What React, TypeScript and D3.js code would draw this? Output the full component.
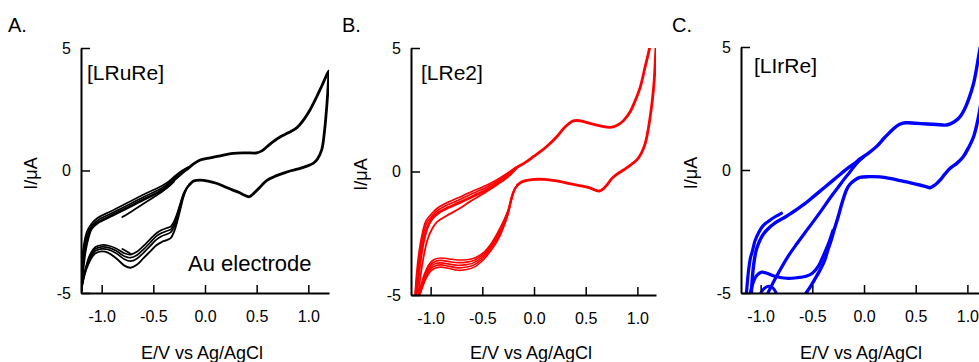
import React, { useEffect, useRef } from 'react';
import * as d3 from 'd3';

type Pt = [number, number];

const FONT = '"Liberation Sans", Arial, Helvetica, sans-serif';

// shared axes
const xTickValues = [-1.0, -0.5, 0.0, 0.5, 1.0];
const xTickLabels = ['-1.0', '-0.5', '0.0', '0.5', '1.0'];
const yTickValues = [-5, 0, 5];
const yTickLabels = ['-5', '0', '5'];
const xTitle = 'E/V vs Ag/AgCl';
const yTitle = 'I/μA';

// ---- A. [LRuRe] on Au electrode (E in V, I in uA) ----
const ruUpper: Pt[] = [
  [-1.2, -5.0], [-1.185, -4.2], [-1.16, -3.3], [-1.13, -2.72], [-1.1, -2.38], [-1.04, -2.14],
  [-0.9, -1.84], [-0.75, -1.52], [-0.58, -1.15], [-0.42, -0.82], [-0.35, -0.62], [-0.29, -0.36],
  [-0.22, -0.1], [-0.16, 0.1], [-0.1, 0.3], [-0.04, 0.44], [0.05, 0.52], [0.15, 0.6], [0.27, 0.7],
  [0.4, 0.72], [0.5, 0.72], [0.55, 0.8], [0.6, 0.97], [0.66, 1.18], [0.73, 1.38], [0.81, 1.55],
  [0.89, 1.75], [0.96, 2.1], [1.02, 2.5], [1.08, 3.0], [1.13, 3.45], [1.19, 4.0], [1.2, 4.05]
];
const ruUpper2: Pt[] = [
  [-1.2, -5.0], [-1.19, -4.1], [-1.17, -3.2], [-1.14, -2.62], [-1.1, -2.28], [-1.04, -2.04],
  [-0.9, -1.74], [-0.75, -1.42], [-0.58, -1.05], [-0.42, -0.72], [-0.35, -0.52], [-0.29, -0.27],
  [-0.22, -0.03], [-0.16, 0.13]
];
const ruUpper3: Pt[] = [
  [-1.2, -5.0], [-1.195, -4.0], [-1.175, -3.1], [-1.145, -2.52], [-1.1, -2.18], [-1.04, -1.94],
  [-0.9, -1.64], [-0.75, -1.32], [-0.58, -0.95], [-0.42, -0.63], [-0.35, -0.45], [-0.29, -0.22],
  [-0.22, 0.0], [-0.16, 0.14]
];
const ruStart: Pt[] = [
  [-0.8, -1.9], [-0.7, -1.64], [-0.6, -1.37], [-0.5, -1.1], [-0.42, -0.88], [-0.36, -0.68], [-0.3, -0.45]
];
const ruLower: Pt[] = [
  [1.2, 4.05], [1.185, 3.0], [1.17, 2.2], [1.155, 1.55], [1.13, 0.85], [1.09, 0.48], [1.05, 0.3],
  [0.98, 0.17], [0.92, 0.09], [0.84, 0.0], [0.76, -0.11], [0.68, -0.23], [0.6, -0.4], [0.55, -0.6],
  [0.5, -0.82], [0.46, -0.98], [0.43, -1.07], [0.39, -1.02], [0.33, -0.9], [0.27, -0.8], [0.18, -0.64],
  [0.11, -0.52], [0.03, -0.43], [-0.05, -0.39], [-0.11, -0.43], [-0.15, -0.58]
];
const ruCycle1: Pt[] = [
  [-0.15, -0.58], [-0.18, -0.72], [-0.21, -0.96], [-0.24, -1.36], [-0.27, -1.76], [-0.3, -2.08],
  [-0.33, -2.28], [-0.37, -2.35], [-0.42, -2.43], [-0.47, -2.56], [-0.53, -2.8], [-0.6, -3.1],
  [-0.66, -3.32], [-0.72, -3.43], [-0.78, -3.38], [-0.86, -3.18], [-0.94, -3.06], [-1.0, -3.04],
  [-1.06, -3.12], [-1.11, -3.4], [-1.15, -3.9], [-1.18, -4.4], [-1.2, -5.0]
];
const ruCycle2: Pt[] = [
  [-0.15, -0.58], [-0.18, -0.73], [-0.21, -1.0], [-0.24, -1.42], [-0.27, -1.85], [-0.3, -2.18],
  [-0.33, -2.4], [-0.37, -2.47], [-0.42, -2.55], [-0.47, -2.68], [-0.53, -2.94], [-0.6, -3.24],
  [-0.66, -3.46], [-0.72, -3.56], [-0.78, -3.5], [-0.86, -3.28], [-0.94, -3.14], [-1.0, -3.12],
  [-1.06, -3.2], [-1.11, -3.48], [-1.15, -3.95], [-1.18, -4.45], [-1.2, -5.0]
];
const ruCycle3: Pt[] = [
  [-0.15, -0.58], [-0.18, -0.75], [-0.21, -1.05], [-0.24, -1.5], [-0.27, -1.95], [-0.3, -2.3],
  [-0.33, -2.52], [-0.37, -2.6], [-0.42, -2.68], [-0.47, -2.82], [-0.53, -3.08], [-0.6, -3.38],
  [-0.66, -3.6], [-0.72, -3.7], [-0.78, -3.62], [-0.86, -3.38], [-0.94, -3.22], [-1.0, -3.2],
  [-1.06, -3.28], [-1.11, -3.55], [-1.15, -4.0], [-1.18, -4.5], [-1.2, -5.0]
];
const ruCycle4: Pt[] = [
  [-0.15, -0.58], [-0.18, -0.77], [-0.21, -1.1], [-0.24, -1.6], [-0.27, -2.1], [-0.3, -2.5],
  [-0.33, -2.75], [-0.37, -2.84], [-0.42, -2.92], [-0.47, -3.05], [-0.53, -3.3], [-0.6, -3.6],
  [-0.66, -3.85], [-0.72, -3.97], [-0.78, -3.88], [-0.86, -3.58], [-0.94, -3.35], [-1.0, -3.3],
  [-1.06, -3.38], [-1.11, -3.65], [-1.15, -4.05], [-1.18, -4.5], [-1.2, -5.0]
];
const ruTail: Pt[] = [[-0.8, -3.2], [-0.76, -3.3], [-0.72, -3.4]];

// ---- B. [LRe2] ----
const reUpper: Pt[] = [
  [-1.14, -5.0], [-1.12, -4.3], [-1.1, -3.6], [-1.07, -2.85], [-1.03, -2.25], [-0.98, -1.88],
  [-0.92, -1.66], [-0.83, -1.46], [-0.72, -1.26], [-0.64, -1.1], [-0.55, -0.92], [-0.45, -0.72],
  [-0.35, -0.45], [-0.25, -0.13], [-0.17, 0.15], [-0.09, 0.35], [0.0, 0.62], [0.06, 0.8], [0.12, 1.0],
  [0.22, 1.41], [0.3, 1.8], [0.38, 2.05], [0.45, 2.05], [0.54, 1.95], [0.64, 1.85], [0.74, 1.79],
  [0.81, 1.88], [0.87, 2.08], [0.93, 2.42], [0.98, 2.88], [1.03, 3.45], [1.075, 4.24], [1.12, 5.05],
  [1.15, 6.0]
];
const reUpper2: Pt[] = [
  [-1.15, -5.0], [-1.13, -4.2], [-1.11, -3.45], [-1.08, -2.7], [-1.04, -2.1], [-0.98, -1.76],
  [-0.92, -1.54], [-0.83, -1.34], [-0.72, -1.14], [-0.64, -0.98], [-0.55, -0.81], [-0.45, -0.62],
  [-0.35, -0.37], [-0.25, -0.08], [-0.17, 0.17]
];
const reUpper3: Pt[] = [
  [-1.15, -5.0], [-1.135, -4.1], [-1.115, -3.35], [-1.085, -2.6], [-1.045, -2.0], [-0.98, -1.66],
  [-0.92, -1.44], [-0.83, -1.24], [-0.72, -1.04], [-0.64, -0.88], [-0.55, -0.72], [-0.45, -0.54],
  [-0.35, -0.31], [-0.25, -0.05], [-0.17, 0.18]
];
const reFirst: Pt[] = [
  [-1.12, -5.0], [-1.1, -4.3], [-1.07, -3.5], [-1.03, -2.75], [-0.98, -2.28], [-0.94, -2.05],
  [-0.85, -1.8], [-0.72, -1.5], [-0.62, -1.22], [-0.5, -0.92], [-0.4, -0.66], [-0.3, -0.38],
  [-0.23, -0.15], [-0.17, 0.12]
];
const reLower: Pt[] = [
  [1.2, 6.4], [1.18, 5.05], [1.163, 3.7], [1.145, 2.9], [1.124, 2.22], [1.1, 1.6], [1.076, 1.14],
  [1.04, 0.75], [0.995, 0.47], [0.93, 0.25], [0.865, 0.06], [0.8, -0.12], [0.75, -0.3], [0.71, -0.52],
  [0.67, -0.7], [0.63, -0.79], [0.59, -0.75], [0.54, -0.66], [0.47, -0.59], [0.39, -0.53], [0.3, -0.45],
  [0.2, -0.37], [0.1, -0.32], [0.0, -0.32], [-0.07, -0.36], [-0.12, -0.43], [-0.16, -0.55]
];
const reCycle1: Pt[] = [
  [-0.16, -0.55], [-0.19, -0.71], [-0.22, -1.05], [-0.25, -1.55], [-0.3, -2.05], [-0.35, -2.46],
  [-0.42, -2.95], [-0.48, -3.25], [-0.575, -3.5], [-0.65, -3.57], [-0.736, -3.58], [-0.82, -3.54],
  [-0.9, -3.5], [-0.96, -3.55], [-1.0, -3.68], [-1.04, -3.95], [-1.08, -4.4], [-1.12, -5.1]
];
const reCycle2: Pt[] = [
  [-0.16, -0.55], [-0.19, -0.73], [-0.22, -1.09], [-0.25, -1.59], [-0.3, -2.11], [-0.35, -2.54],
  [-0.42, -3.02], [-0.48, -3.31], [-0.575, -3.59], [-0.65, -3.67], [-0.736, -3.69], [-0.82, -3.65],
  [-0.9, -3.6], [-0.96, -3.65], [-1.0, -3.77], [-1.04, -4.04], [-1.08, -4.48], [-1.12, -5.1]
];
const reCycle3: Pt[] = [
  [-0.16, -0.55], [-0.19, -0.75], [-0.22, -1.13], [-0.25, -1.63], [-0.3, -2.18], [-0.35, -2.62],
  [-0.42, -3.08], [-0.48, -3.38], [-0.575, -3.68], [-0.65, -3.77], [-0.736, -3.8], [-0.82, -3.75],
  [-0.9, -3.7], [-0.96, -3.74], [-1.0, -3.86], [-1.04, -4.13], [-1.08, -4.56], [-1.115, -5.1]
];
const reCycle4: Pt[] = [
  [-0.16, -0.55], [-0.19, -0.77], [-0.22, -1.17], [-0.25, -1.68], [-0.3, -2.25], [-0.35, -2.7],
  [-0.42, -3.15], [-0.48, -3.45], [-0.575, -3.77], [-0.65, -3.87], [-0.736, -3.9], [-0.82, -3.84],
  [-0.9, -3.78], [-0.96, -3.83], [-1.0, -3.95], [-1.04, -4.22], [-1.08, -4.64], [-1.11, -5.1]
];
const reCycle5: Pt[] = [
  [-0.16, -0.55], [-0.19, -0.78], [-0.22, -1.2], [-0.25, -1.72], [-0.3, -2.32], [-0.35, -2.78],
  [-0.42, -3.22], [-0.48, -3.53], [-0.575, -3.86], [-0.65, -3.97], [-0.736, -4.0], [-0.82, -3.93],
  [-0.9, -3.87], [-0.96, -3.92], [-1.0, -4.04], [-1.04, -4.3], [-1.08, -4.7], [-1.11, -5.1]
];

// ---- C. [LIrRe] ----
const irUpper: Pt[] = [
  [-1.09, -5.0], [-1.07, -3.93], [-1.045, -3.3], [-1.02, -2.98], [-0.98, -2.65], [-0.94, -2.44],
  [-0.86, -2.15], [-0.75, -1.88], [-0.65, -1.6], [-0.575, -1.38], [-0.48, -1.05], [-0.38, -0.7],
  [-0.3, -0.42], [-0.22, -0.14], [-0.15, 0.1], [-0.09, 0.27], [-0.04, 0.45], [0.04, 0.68], [0.12, 0.95],
  [0.2, 1.32], [0.28, 1.66], [0.34, 1.85], [0.4, 1.92], [0.5, 1.9], [0.61, 1.87], [0.7, 1.85],
  [0.8, 1.83], [0.87, 1.95], [0.93, 2.17], [0.97, 2.45], [1.01, 2.85], [1.06, 3.52], [1.108, 4.6],
  [1.14, 5.4]
];
const irStart: Pt[] = [
  [-0.8, -1.76], [-0.86, -1.9], [-0.93, -2.1], [-0.98, -2.28], [-1.02, -2.55], [-1.056, -2.9],
  [-1.08, -3.3], [-1.1, -3.6], [-1.12, -4.2], [-1.137, -5.0]
];
const irDiag: Pt[] = [
  [-0.93, -5.0], [-0.85, -4.35], [-0.736, -3.52], [-0.65, -3.0], [-0.575, -2.57], [-0.5, -2.15],
  [-0.41, -1.63], [-0.33, -1.15], [-0.25, -0.7], [-0.19, -0.36], [-0.14, -0.1], [-0.1, 0.12],
  [-0.05, 0.36], [0.0, 0.55]
];
const irLower: Pt[] = [
  [1.2, 5.6], [1.17, 4.2], [1.14, 3.0], [1.108, 2.17], [1.06, 1.35], [1.01, 0.9], [0.96, 0.54],
  [0.9, 0.28], [0.833, 0.07], [0.78, -0.18], [0.736, -0.41], [0.69, -0.6], [0.64, -0.72], [0.6, -0.68],
  [0.54, -0.61], [0.45, -0.52], [0.35, -0.43], [0.25, -0.34], [0.155, -0.28], [0.05, -0.27],
  [-0.04, -0.3], [-0.09, -0.41], [-0.14, -0.6], [-0.17, -0.81], [-0.21, -1.3], [-0.25, -1.9],
  [-0.29, -2.45], [-0.317, -2.85], [-0.35, -3.25], [-0.38, -3.66], [-0.43, -4.1], [-0.48, -4.47],
  [-0.52, -4.75], [-0.56, -5.0]
];
const irPlateau: Pt[] = [
  [-0.3, -2.45], [-0.34, -2.95], [-0.39, -3.45], [-0.44, -3.9], [-0.5, -4.2], [-0.56, -4.32],
  [-0.65, -4.38], [-0.75, -4.4], [-0.85, -4.33], [-0.94, -4.2], [-0.99, -4.15], [-1.04, -4.3],
  [-1.07, -4.55], [-1.1, -5.0]
];
const irHump: Pt[] = [[-1.0, -5.0], [-0.96, -4.8], [-0.92, -4.73], [-0.88, -4.8], [-0.85, -5.0]];

interface Series { pts: Pt[]; w: number; }
interface PanelSpec {
  left: number; right: number; top: number; bottom: number;
  xDomain: [number, number];
  color: string;
  letter: string; letterX: number;
  tag: string; tagX: number; tagY: number;
  series: Series[];
}

const panels: PanelSpec[] = [
  {
    left: 81, right: 329, top: 48, bottom: 293, xDomain: [-1.2, 1.2], color: '#000000',
    letter: 'A.', letterX: 8, tag: '[LRuRe]', tagX: 87, tagY: 80,
    series: [
      { pts: ruCycle1, w: 1.7 }, { pts: ruCycle2, w: 1.7 }, { pts: ruCycle3, w: 1.7 }, { pts: ruCycle4, w: 1.9 },
      { pts: ruTail, w: 1.7 }, { pts: ruUpper3, w: 1.7 }, { pts: ruUpper2, w: 1.7 }, { pts: ruStart, w: 1.8 },
      { pts: ruUpper, w: 2.8 }, { pts: ruLower, w: 2.8 }
    ]
  },
  {
    left: 411, right: 656, top: 48, bottom: 295, xDomain: [-1.19, 1.18], color: '#ff0000',
    letter: 'B.', letterX: 342, tag: '[LRe2]', tagX: 421, tagY: 80,
    series: [
      { pts: reCycle1, w: 1.6 }, { pts: reCycle2, w: 1.6 }, { pts: reCycle3, w: 1.6 }, { pts: reCycle4, w: 1.6 },
      { pts: reCycle5, w: 1.6 }, { pts: reFirst, w: 1.8 }, { pts: reUpper3, w: 1.7 }, { pts: reUpper2, w: 1.7 },
      { pts: reUpper, w: 2.8 }, { pts: reLower, w: 2.8 }
    ]
  },
  {
    left: 741, right: 986, top: 47, bottom: 293, xDomain: [-1.19, 1.18], color: '#0000ff',
    letter: 'C.', letterX: 672, tag: '[LIrRe]', tagX: 754, tagY: 73,
    series: [
      { pts: irUpper, w: 3.4 }, { pts: irStart, w: 3.2 }, { pts: irDiag, w: 3.2 }, { pts: irLower, w: 3.4 },
      { pts: irPlateau, w: 3.2 }, { pts: irHump, w: 3.0 }
    ]
  }
];

const CVFigure: React.FC = () => {
  const svgRef = useRef<SVGSVGElement>(null);

  useEffect(() => {
    if (!svgRef.current) return;
    const svg = d3.select(svgRef.current);
    svg.selectAll('*').remove();
    const defs = svg.append('defs');

    panels.forEach((p, i) => {
      const x = d3.scaleLinear().domain(p.xDomain).range([p.left, p.right]);
      const y = d3.scaleLinear().domain([-5, 5]).range([p.bottom, p.top]);

      const clipId = `cv-clip-${i}`;
      defs.append('clipPath').attr('id', clipId)
        .append('rect')
        .attr('x', p.left)
        .attr('y', p.top)
        .attr('width', p.right - p.left)
        .attr('height', p.bottom - p.top);

      const line = d3.line<Pt>()
        .x(d => x(d[0]))
        .y(d => y(d[1]))
        .curve(d3.curveCatmullRom.alpha(0.5));

      const traces = svg.append('g').attr('clip-path', `url(#${clipId})`);
      p.series.forEach(s => {
        traces.append('path')
          .datum(s.pts)
          .attr('d', line)
          .attr('fill', 'none')
          .attr('stroke', p.color)
          .attr('stroke-width', s.w)
          .attr('stroke-linejoin', 'round')
          .attr('stroke-linecap', 'round');
      });

      // x axis, ticks pointing inward
      const gx = svg.append('g')
        .attr('transform', `translate(0,${p.bottom})`)
        .call(d3.axisBottom(x)
          .tickValues(xTickValues)
          .tickFormat((_, k) => xTickLabels[k])
          .tickSizeInner(-8)
          .tickSizeOuter(0)
          .tickPadding(18));
      gx.attr('font-size', 16).attr('font-family', FONT);
      gx.select('.domain').attr('stroke-width', 2);
      gx.selectAll('.tick line').attr('stroke-width', 1.5);

      // y axis
      const gy = svg.append('g')
        .attr('transform', `translate(${p.left},0)`)
        .call(d3.axisLeft(y)
          .tickValues(yTickValues)
          .tickFormat((_, k) => yTickLabels[k])
          .tickSizeInner(-9)
          .tickSizeOuter(0)
          .tickPadding(10));
      gy.attr('font-size', 16).attr('font-family', FONT);
      gy.select('.domain').attr('stroke-width', 2);
      gy.selectAll('.tick line').attr('stroke-width', 1.5);

      // axis titles
      svg.append('text')
        .attr('x', x(0) - 3)
        .attr('y', 359)
        .attr('text-anchor', 'middle')
        .style('font-family', FONT)
        .style('font-size', '18px')
        .text(xTitle);

      svg.append('text')
        .attr('transform', `translate(${p.left - 44},${(p.top + p.bottom) / 2 + 3}) rotate(-90)`)
        .attr('text-anchor', 'middle')
        .style('font-family', FONT)
        .style('font-size', '18px')
        .text(yTitle);

      // panel letter and compound tag
      svg.append('text')
        .attr('x', p.letterX)
        .attr('y', 32)
        .style('font-family', FONT)
        .style('font-size', '20px')
        .text(p.letter);

      svg.append('text')
        .attr('x', p.tagX)
        .attr('y', p.tagY)
        .style('font-family', FONT)
        .style('font-size', '21px')
        .text(p.tag);
    });

    svg.append('text')
      .attr('x', 188)
      .attr('y', 271)
      .style('font-family', FONT)
      .style('font-size', '22px')
      .text('Au electrode');
  }, []);

  return (
    <svg
      ref={svgRef}
      width={979}
      height={362}
      style={{ position: 'absolute', left: 0, top: 0, background: '#fff', display: 'block' }}
    />
  );
};

export default function App() {
  return <CVFigure />;
}
